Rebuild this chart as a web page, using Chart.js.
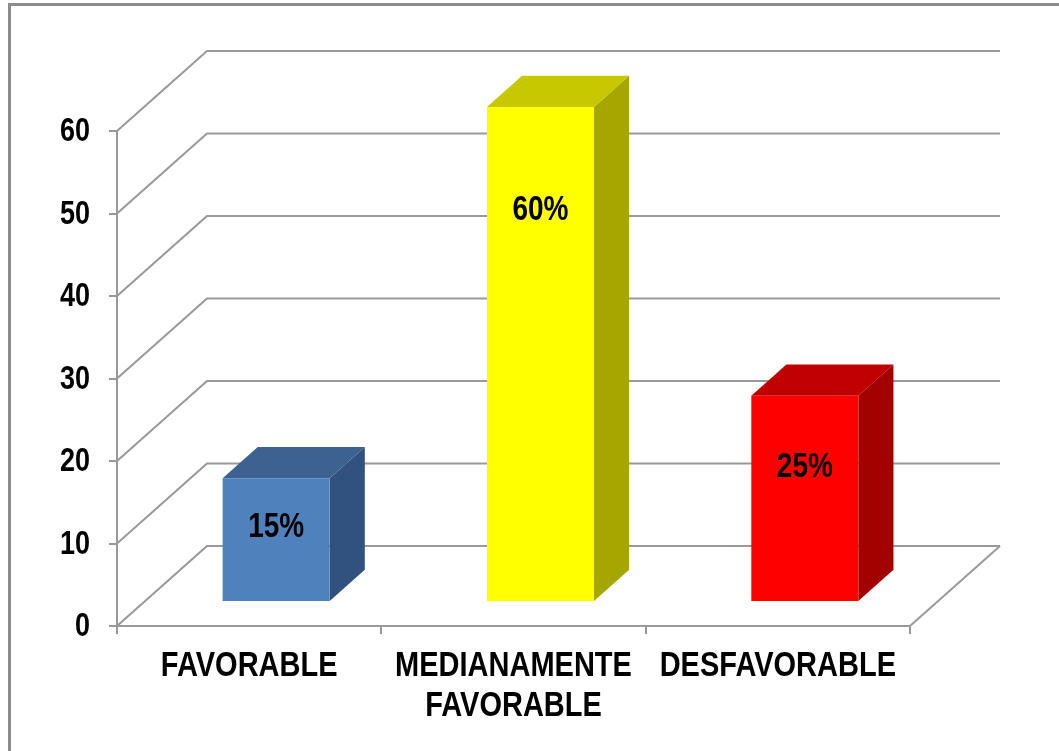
<!DOCTYPE html>
<html>
<head>
<meta charset="utf-8">
<script src="https://cdn.jsdelivr.net/npm/chart.js@4.4.0/dist/chart.umd.min.js"></script>
<style>
html, body { margin: 0; padding: 0; background: #fff; overflow: hidden; }
canvas { display: block; }
</style>
</head>
<body>
<canvas id="chart" width="1059" height="751"></canvas>
<script>
// data
const categories = ["FAVORABLE", ["MEDIANAMENTE", "FAVORABLE"], "DESFAVORABLE"];
const percentValues = [15, 60, 25];
const percentLabels = ["15%", "60%", "25%"];
const yTicks = [0, 10, 20, 30, 40, 50, 60];

// colours: front, top, side
const frontColors = ["#4f81bd", "#ffff00", "#ff0000"];
const topColors = ["#3c6291", "#c8c800", "#c00000"];
const sideColors = ["#31527e", "#a6a600", "#a30000"];

const FONT = "'Liberation Sans', Arial, sans-serif";
const STRETCH = 1.22; // text in the original is stretched vertically
const GRID = "#999999";

// 3d depth of the plot box and where the bars sit inside it
const DEPTH_X = 90, DEPTH_Y = -80;
const BAR_FRONT = 0.3, BAR_DEPTH = 0.39;
const labelPos = [0.40, 0.21, 0.35];

function poly(ctx, pts, color) {
    ctx.beginPath();
    ctx.moveTo(pts[0][0], pts[0][1]);
    for (let i = 1; i < pts.length; i++) ctx.lineTo(pts[i][0], pts[i][1]);
    ctx.closePath();
    ctx.fillStyle = color;
    ctx.fill();
}

function tallText(ctx, text, x, y, size, align) {
    ctx.save();
    ctx.translate(x, y);
    ctx.scale(1, STRETCH);
    ctx.font = "bold " + size + "px " + FONT;
    ctx.fillStyle = "#000";
    ctx.textAlign = align;
    ctx.textBaseline = "middle";
    ctx.fillText(text, 0, 0);
    ctx.restore();
}

const threeD = {
    id: "threeD",
    beforeDraw(chart) {
        const ctx = chart.ctx;
        const { left, right, bottom } = chart.chartArea;
        const y = chart.scales.y;
        ctx.save();
        ctx.fillStyle = "#fff";
        ctx.fillRect(0, 0, chart.width, chart.height);

        // outer frame
        ctx.strokeStyle = "#8c8c8c";
        ctx.lineWidth = 3;
        ctx.strokeRect(9.5, 4.5, chart.width + 20, chart.height + 20);

        // side wall + back wall gridlines
        ctx.strokeStyle = GRID;
        ctx.lineWidth = 2;
        y.ticks.forEach(t => {
            const py = y.getPixelForValue(t.value);
            ctx.beginPath();
            ctx.moveTo(left, py);
            ctx.lineTo(left + DEPTH_X, py + DEPTH_Y);
            ctx.lineTo(right + DEPTH_X, py + DEPTH_Y);
            ctx.stroke();
        });

        // floor right edge
        ctx.beginPath();
        ctx.moveTo(right, bottom);
        ctx.lineTo(right + DEPTH_X, bottom + DEPTH_Y);
        ctx.stroke();
        ctx.restore();
    },
    afterDatasetsDraw(chart) {
        const ctx = chart.ctx;
        const meta = chart.getDatasetMeta(0);
        const ox = DEPTH_X * BAR_FRONT, oy = DEPTH_Y * BAR_FRONT;
        const dx = DEPTH_X * BAR_DEPTH, dy = DEPTH_Y * BAR_DEPTH;
        meta.data.forEach((bar, i) => {
            const p = bar.getProps(["x", "y", "base", "width"], true);
            const x0 = p.x - p.width / 2 + ox;
            const x1 = p.x + p.width / 2 + ox;
            const yt = p.y + oy;
            const yb = p.base + oy;

            poly(ctx, [[x1, yt], [x1 + dx, yt + dy], [x1 + dx, yb + dy], [x1, yb]], sideColors[i]);
            poly(ctx, [[x0, yt], [x0 + dx, yt + dy], [x1 + dx, yt + dy], [x1, yt]], topColors[i]);
            poly(ctx, [[x0, yt], [x1, yt], [x1, yb], [x0, yb]], frontColors[i]);

            tallText(ctx, percentLabels[i], (x0 + x1) / 2, yt + (yb - yt) * labelPos[i], 28, "center");
        });
    },
    afterDraw(chart) {
        const ctx = chart.ctx;
        const x = chart.scales.x, y = chart.scales.y;
        const { left, bottom } = chart.chartArea;

        // value axis labels
        y.ticks.forEach(t => {
            tallText(ctx, String(t.value), left - 27, y.getPixelForValue(t.value) + 1, 27, "right");
        });

        // category labels
        categories.forEach((c, i) => {
            const lines = Array.isArray(c) ? c : [c];
            const px = x.getPixelForValue(i);
            lines.forEach((line, j) => {
                tallText(ctx, line, px, bottom + 40 + j * 40, 29, "center");
            });
        });
    }
};

new Chart(document.getElementById("chart"), {
    type: "bar",
    data: {
        labels: categories,
        datasets: [{
            data: percentValues,
            backgroundColor: "rgba(0,0,0,0)",
            borderWidth: 0,
            categoryPercentage: 1,
            barPercentage: 0.405
        }]
    },
    options: {
        responsive: false,
        animation: false,
        devicePixelRatio: 1,
        layout: {
            padding: { top: 131, right: 149, left: 0, bottom: 0 }
        },
        plugins: {
            legend: { display: false },
            tooltip: { enabled: false }
        },
        scales: {
            x: {
                offset: true,
                grid: {
                    display: true,
                    drawOnChartArea: false,
                    drawTicks: true,
                    tickLength: 8,
                    color: GRID,
                    lineWidth: 2,
                    offset: true
                },
                border: { display: true, color: GRID, width: 2 },
                ticks: { display: false, autoSkip: false },
                afterFit(scale) { scale.height = 125; }
            },
            y: {
                min: 0,
                max: 60,
                afterBuildTicks(scale) {
                    scale.ticks = yTicks.map(v => ({ value: v }));
                },
                grid: {
                    display: true,
                    drawOnChartArea: false,
                    drawTicks: true,
                    tickLength: 8,
                    color: GRID,
                    lineWidth: 2
                },
                border: { display: true, color: GRID, width: 2 },
                ticks: { display: false },
                afterFit(scale) { scale.width = 117; }
            }
        }
    },
    plugins: [threeD]
});
</script>
</body>
</html>
